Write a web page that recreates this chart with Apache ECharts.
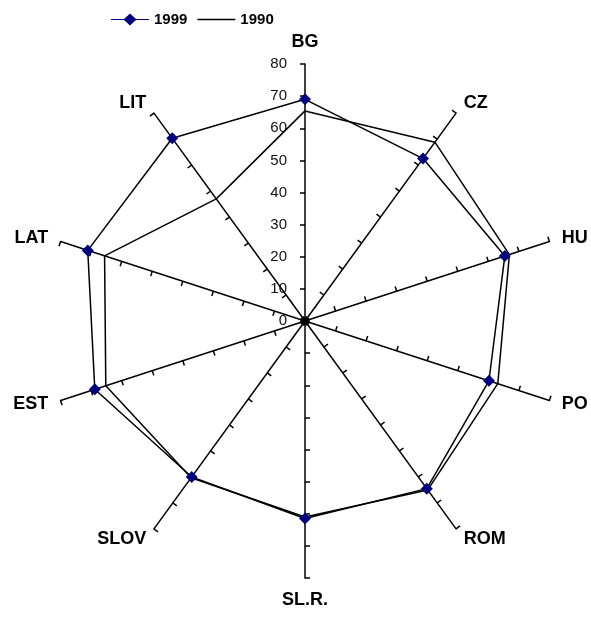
<!DOCTYPE html>
<html>
<head>
<meta charset="utf-8">
<script src="https://cdn.jsdelivr.net/npm/echarts@6/dist/echarts.min.js"></script>
<style>
  html, body { margin: 0; padding: 0; background: #fff; }
  #chart { width: 591px; height: 620px; }
</style>
</head>
<body>
<div id="chart"></div>
<script>
// 国家 (radar 轴, 顺时针)
const countries = ['BG', 'CZ', 'HU', 'PO', 'ROM', 'SL.R.', 'SLOV', 'EST', 'LAT', 'LIT']
// 数值
const values1999 = [69, 62.5, 65.4, 60.2, 64.5, 61.5, 60, 68.8, 71.1, 70.3]
const values1990 = [65.4, 68.8, 66.9, 63.1, 65, 61, 60.3, 65.2, 65.6, 47]
const axisMax = 80
const axisSplit = 8

const fontFamily = '"Liberation Sans", Arial, sans-serif'

// echarts radar 是逆时针排列, 这里把顺序翻过来 (第一个保持在顶部)
const order = countries.map((_, i) => (countries.length - i) % countries.length)
const reorder = arr => order.map(i => arr[i])

const chart = echarts.init(document.getElementById('chart'))

// 只在第一个轴 (BG) 上显示刻度标签
const indicators = reorder(countries).map((name, i) => {
  const item = { name: name, min: 0, max: axisMax }
  if (i === 0) {
    item.axisLabel = { show: true }
  }
  return item
})

// 图例图标: 线 + 菱形 / 细线
const iconLineDiamond = 'path://M0,5.4L13,5.4L19,0L25,5.4L38,5.4L38,6.6L25,6.6L19,12L13,6.6L0,6.6Z'
const iconLine = 'path://M0,0L38,0L38,1.3L0,1.3Z'

const option = {
  animation: false,
  backgroundColor: '#fff',
  legend: {
    top: 7,
    left: 106,
    itemWidth: 38,
    itemGap: 10,
    textStyle: { fontFamily: fontFamily, fontSize: 15, fontWeight: 'bold', color: '#000' },
    data: [
      { name: '1999', icon: iconLineDiamond, itemHeight: 12 },
      { name: '1990', icon: iconLine },
    ],
  },
  radar: {
    center: [305, 321],
    radius: 257,
    startAngle: 90,
    shape: 'polygon',
    splitNumber: axisSplit,
    indicator: indicators,
    nameGap: 13,
    axisName: {
      color: '#000',
      fontFamily: fontFamily,
      fontSize: 18,
      fontWeight: 'bold',
    },
    axisLine: { lineStyle: { color: '#000', width: 1.5 } },
    axisTick: { show: true, length: 5, lineStyle: { color: '#000', width: 1.5 } },
    axisLabel: {
      show: false,
      color: '#111',
      fontFamily: fontFamily,
      fontSize: 15,
      margin: 18,
    },
    splitLine: { show: false },
    splitArea: { show: false },
  },
  series: [{
    type: 'radar',
    data: [
      {
        name: '1999',
        value: reorder(values1999),
        symbol: 'diamond',
        symbolSize: 12,
        itemStyle: { color: '#000080' },
        lineStyle: { color: '#000', width: 1.5 },
      },
      {
        name: '1990',
        value: reorder(values1990),
        symbol: 'none',
        itemStyle: { color: '#000' },
        lineStyle: { color: '#000', width: 1.5 },
      },
    ],
  }],
}

chart.setOption(option)
</script>
</body>
</html>
